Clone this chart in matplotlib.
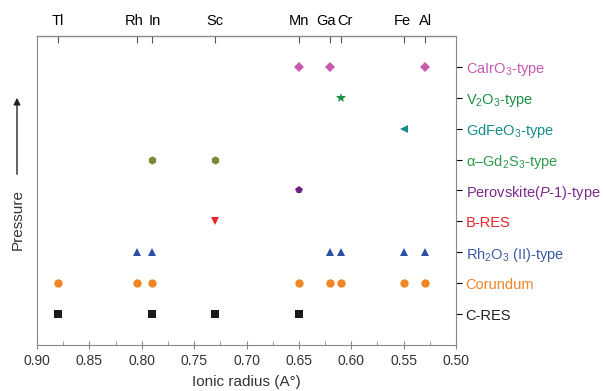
import numpy as np
import matplotlib
matplotlib.use('Agg')
import matplotlib.pyplot as plt
from matplotlib.transforms import ScaledTranslation

plt.rcParams['font.family'] = ['Liberation Sans', 'DejaVu Sans']
plt.rcParams['mathtext.fontset'] = 'custom'
plt.rcParams['mathtext.rm'] = 'Liberation Sans'
plt.rcParams['mathtext.it'] = 'Liberation Sans:italic'

# phases, from low pressure (bottom) to high pressure (top)
phases = ['C-RES', 'Corundum', r'Rh$_2$O$_3$ (II)-type', 'B-RES',
          r'Perovskite($P$-1)-type', '\u03b1\u2013Gd$_2$S$_3$-type',
          r'GdFeO$_3$-type', r'V$_2$O$_3$-type', r'CaIrO$_3$-type']
label_colors = ['#222222', '#f08526', '#3c5aa8', '#e8262c', '#7b2a8c',
                '#2e9a4c', '#168c8c', '#1f8f45', '#c95aae']
marker_colors = ['#1a1a1a', '#f08526', '#2d4fa3', '#e8262c', '#6e1f82',
                 '#7a8a32', '#168c8c', '#1f8f45', '#c95aae']
markers = ['s', 'o', '^', 'v', 'p', 'h', '<', '*', 'D']

# ionic radii of cations seen in each phase
radii = [
    [0.88, 0.79, 0.73, 0.65],
    [0.88, 0.805, 0.79, 0.65, 0.62, 0.61, 0.55, 0.53],
    [0.805, 0.79, 0.62, 0.61, 0.55, 0.53],
    [0.73],
    [0.65],
    [0.79, 0.73],
    [0.55],
    [0.61],
    [0.65, 0.62, 0.53],
]

elements = ['Tl', 'Rh', 'In', 'Sc', 'Mn', 'Ga', 'Cr', 'Fe', 'Al']
element_r = [0.88, 0.805, 0.79, 0.73, 0.65, 0.62, 0.61, 0.55, 0.53]

fig = plt.figure(figsize=(6.03, 3.91), dpi=100)
ax = fig.add_axes([37 / 603, 1 - 345 / 391, 419 / 603, 309 / 391])

for i, (xs, m, c) in enumerate(zip(radii, markers, marker_colors)):
    size = 6
    if m == '*':
        size = 7
    if m == 'D':
        size = 5
    ax.plot(xs, [i + 1] * len(xs), ls='none', marker=m, color=c,
            markersize=size, markeredgewidth=0)

ax.set_xlim(0.90, 0.50)
ax.set_ylim(0, 10)
ax.set_xticks(np.arange(0.90, 0.499, -0.05))
ax.set_xticklabels(['%.2f' % v for v in np.arange(0.90, 0.499, -0.05)])
ax.set_xticks(np.arange(0.875, 0.5, -0.05), minor=True)
ax.tick_params(axis='x', which='major', direction='inout', length=6,
               color='#888888', labelsize=10, labelcolor='#333333')
ax.tick_params(axis='x', which='minor', direction='in', length=3, color='#888888')

ax.yaxis.tick_right()
ax.set_yticks(np.arange(1, 10))
ax.set_yticklabels(phases)
ax.tick_params(axis='y', direction='out', length=4, labelsize=10.5, pad=3)
for t, c in zip(ax.get_yticklabels(), label_colors):
    t.set_color(c)
for i, tk in enumerate(ax.yaxis.get_major_ticks()):
    tk.tick2line.set_color(label_colors[i])

for s in ax.spines.values():
    s.set_color('#888888')

top = ax.secondary_xaxis('top')
top.set_xticks(element_r)
top.set_xticklabels(elements)
top.tick_params(direction='in', length=5, color='#555555', labelsize=10.5, pad=6)
# nudge crowded element labels apart
nudge = {'Rh': -2, 'In': 2, 'Ga': -3, 'Cr': 3, 'Fe': -1, 'Al': 1}
for t in top.get_xticklabels():
    dx = nudge.get(t.get_text(), 0)
    if dx:
        t.set_transform(t.get_transform() + ScaledTranslation(dx / 72, 0, fig.dpi_scale_trans))

ax.set_xlabel('Ionic radius (A°)', fontsize=11, color='#333333', labelpad=5)

fig.text(18 / 603, 1 - 219 / 391, 'Pressure', rotation=90, ha='center',
         va='center', fontsize=11, color='#333333')
fig.add_artist(matplotlib.patches.FancyArrowPatch(
    (17 / 603, 1 - 177 / 391), (17 / 603, 1 - 95 / 391),
    transform=fig.transFigure, arrowstyle='-|>', mutation_scale=10,
    color='#222222', lw=1))

fig.savefig('out.png', dpi=100)
